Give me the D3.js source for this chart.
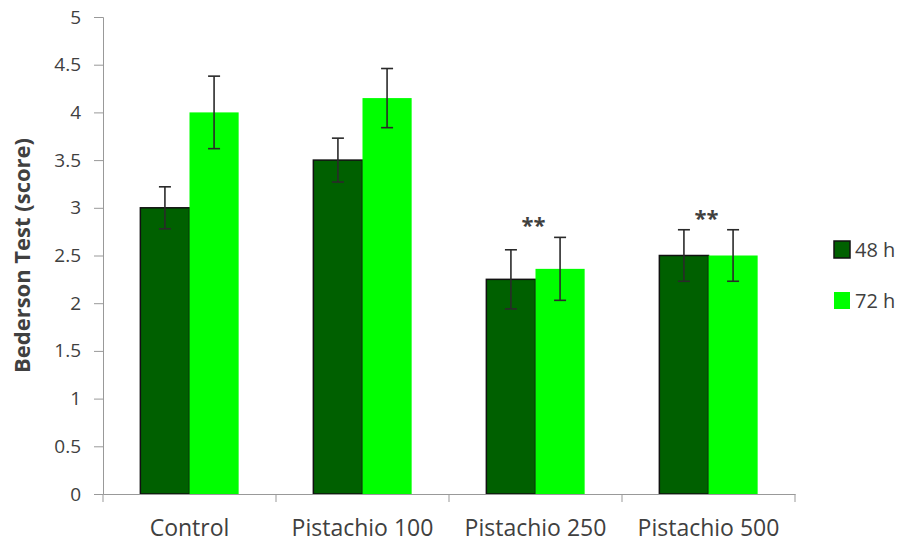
<!DOCTYPE html>
<html><head><meta charset="utf-8">
<script src="https://cdn.jsdelivr.net/npm/d3@7"></script>
<style>body{margin:0;background:#fff}svg{display:block}text{font-family:"Open Sans",Lato,sans-serif;fill:#404040}</style>
</head><body><svg id="c" width="903" height="544"></svg>
<script>
const categories = ["Control","Pistachio 100","Pistachio 250","Pistachio 500"];
const seriesNames = ["48 h","72 h"];
const values48 = [3.0, 3.5, 2.25, 2.5];
const values72 = [4.0, 4.15, 2.36, 2.5];
const err48 = [0.22, 0.23, 0.31, 0.27];
const err72 = [0.38, 0.31, 0.33, 0.27];
const stars = ["", "", "**", "**"];
const yTicks = [0,0.5,1,1.5,2,2.5,3,3.5,4,4.5,5];
const colors = ["#006000","#00ff00"];

const svg = d3.select("#c");
const m = {l:103, r:795, t:17, b:494};
const x = d3.scaleBand().domain(categories).range([m.l, m.r]).paddingInner(0).paddingOuter(0);
const x1 = d3.scaleBand().domain(seriesNames).range([0, x.bandwidth()]).paddingInner(0).paddingOuter(0.76);
const y = d3.scaleLinear().domain([0,5]).range([m.b, m.t]);

// y axis
const ya = svg.append("g").attr("transform",`translate(${m.l},0)`)
  .call(d3.axisLeft(y).tickValues(yTicks).tickSize(9).tickPadding(13).tickFormat(d=>String(d)));
ya.select(".domain").attr("stroke","#999");
ya.selectAll(".tick line").attr("stroke","#999");
ya.selectAll("text").style("font-size","19px").style("font-family","'Open Sans'").attr("fill","#404040");

const data = categories.map((c,i)=>({c, s:[{k:"48 h",v:values48[i],e:err48[i],col:colors[0]},{k:"72 h",v:values72[i],e:err72[i],col:colors[1]}], star:stars[i]}));

const g = svg.append("g").selectAll("g").data(data).join("g").attr("transform",d=>`translate(${x(d.c)},0)`);
g.selectAll("rect").data(d=>d.s).join("rect")
  .attr("x",d=>x1(d.k)).attr("width",x1.bandwidth())
  .attr("y",d=>y(d.v)).attr("height",d=>y(0)-y(d.v))
  .attr("fill",d=>d.col)
  .attr("stroke",d=>d.k==="48 h"?"#111":"none").attr("stroke-width",1.5);

// error bars
const eb = g.selectAll("g.eb").data(d=>d.s).join("g").attr("class","eb");
const cx = d=>x1(d.k)+x1.bandwidth()/2;
eb.append("line").attr("x1",cx).attr("x2",cx)
  .attr("y1",d=>y(d.v+d.e)).attr("y2",d=>y(d.v-d.e)).attr("stroke","#2a2a2a").attr("stroke-width",1.6);
eb.append("line").attr("x1",d=>cx(d)-6).attr("x2",d=>cx(d)+6)
  .attr("y1",d=>y(d.v+d.e)).attr("y2",d=>y(d.v+d.e)).attr("stroke","#2a2a2a").attr("stroke-width",1.6);
eb.append("line").attr("x1",d=>cx(d)-6).attr("x2",d=>cx(d)+6)
  .attr("y1",d=>y(d.v-d.e)).attr("y2",d=>y(d.v-d.e)).attr("stroke","#2a2a2a").attr("stroke-width",1.6);

// stars
g.append("text").text(d=>d.star).attr("x",x.bandwidth()/2-2)
  .attr("y",d=>y(d3.max(d.s,s=>s.v+s.e))-4).attr("text-anchor","middle")
  .style("font-size","22px").style("font-weight","bold").attr("fill","#333");

// x axis
const xa = svg.append("g").attr("transform",`translate(0,${m.b})`)
  .call(d3.axisBottom(x).tickSize(0).tickPadding(26));
xa.select(".domain").attr("stroke","#999");
xa.selectAll("text").style("font-size","23px").style("font-family","'Open Sans'").attr("fill","#404040");
xa.selectAll("line.sep").data(d3.range(categories.length+1)).join("line").attr("class","sep")
  .attr("x1",i=>m.l+i*x.bandwidth()).attr("x2",i=>m.l+i*x.bandwidth())
  .attr("y1",0).attr("y2",8).attr("stroke","#999");

// y title
svg.append("text").attr("transform",`translate(30,${(m.t+m.b)/2}) rotate(-90)`)
  .attr("text-anchor","middle").style("font-size","22px").style("font-weight","bold")
  .attr("fill","#000").text("Bederson Test (score)");

// legend
const lg = svg.append("g").selectAll("g").data(seriesNames).join("g")
  .attr("transform",(d,i)=>`translate(834,${241+i*51})`);
lg.append("rect").attr("width",16).attr("height",17).attr("fill",(d,i)=>colors[i])
  .attr("stroke",(d,i)=>i===0?"#111":"none").attr("stroke-width",1.5);
lg.append("text").attr("x",21).attr("y",9).attr("dy","0.36em").style("font-size","20px").text(d=>d);
</script></body></html>
